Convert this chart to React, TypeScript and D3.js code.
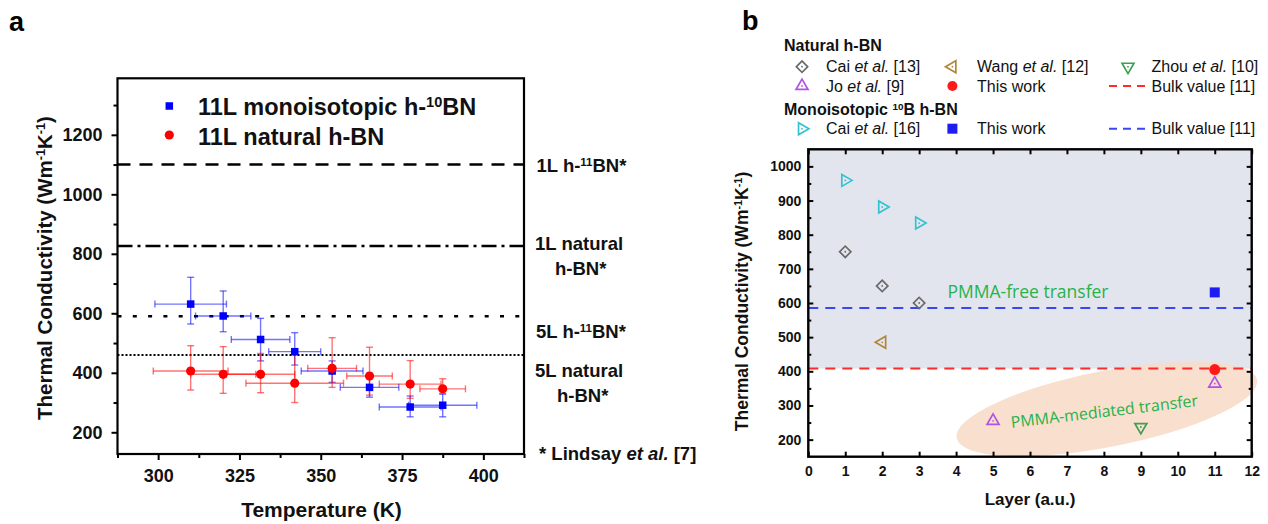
import { useEffect, useRef } from "react";
import * as d3 from "d3";

const FONT = "'Liberation Sans', Arial, Helvetica, sans-serif";
const NOTE_FONT = "'Open Sans', 'Noto Sans', sans-serif";

// ---- panel a: 11L h-BN vs temperature
const temperatureK = [310, 320, 331.5, 342, 353.5, 365, 377.5, 387.5];
const monoValues = [631, 591, 512, 471, 406, 351, 285, 291];
const monoLower = [564, 538, 440, 426, 368, 318, 252, 252];
const monoUpper = [721, 675, 583, 535, 440, 398, 322, 328];
const monoTempErr = [11, 8.5, 9, 8, 9.5, 9, 9.5, 10.5];
const naturalValues = [406, 395, 395, 365, 415, 389, 362, 346];
const naturalLower = [342, 331, 333, 300, 351, 325, 314, 331];
const naturalUpper = [491, 488, 465, 467, 518, 486, 441, 380];
const naturalTempErr = [11.5, 10, 10.5, 15, 7.5, 7, 9.5, 7];

const referenceValues = [1100, 826, 590, 460];
const referenceDashes = ["13,9", "15,5,3,5", "4,11.3", "2,2"];

const tempTicks = [300, 325, 350, 375, 400];
const tempMinorTicks = [287.5, 312.5, 337.5, 362.5, 387.5, 412.5];
const kTicksA = [200, 400, 600, 800, 1000, 1200];
const kMinorTicksA = [300, 500, 700, 900, 1100, 1300];

// ---- panel b: thermal conductivity vs layer number
const caiLayers13 = [1, 2, 3];
const caiValues13 = [750, 650, 600];
const caiLayers16 = [1, 2, 3];
const caiValues16 = [959, 881, 834];
const wangLayers = [2];
const wangValues = [485];
const zhouLayers = [9];
const zhouValues = [237];
const joLayers = [5, 11];
const joValues = [255, 364];
const naturalWorkLayers = [11];
const naturalWorkValues = [405];
const monoWorkLayers = [11];
const monoWorkValues = [631];
const bulkNatural = 408;
const bulkMono = 585;

const layerTicks = [0, 1, 2, 3, 4, 5, 6, 7, 8, 9, 10, 11, 12];
const kTicksB = [200, 300, 400, 500, 600, 700, 800, 900, 1000];
const kMinorTicksB = [250, 350, 450, 550, 650, 750, 850, 950];

type Seg = { t: string; sup?: boolean; it?: boolean };

function rich(sel: any, segs: Seg[]) {
    segs.forEach((s) => {
        const ts = sel.append("tspan").text(s.t);
        if (s.sup) {
            ts.attr("baseline-shift", "super").attr("font-size", "62%");
        }
        if (s.it) {
            ts.attr("font-style", "italic");
        }
    });
    return sel;
}

function styleAxis(g: any, size: number) {
    g.select(".domain").remove();
    g.attr("font-family", FONT).attr("font-size", size).attr("font-weight", "bold");
    g.selectAll(".tick line").attr("stroke", "#000").attr("stroke-width", 2);
    g.selectAll(".tick text").attr("fill", "#111");
}

function symbolPath(kind: string) {
    if (kind === "diamond") {
        return { d: d3.symbol(d3.symbolSquare, 64)(), rot: 45 };
    }
    const tri = d3.symbol(d3.symbolTriangle, 62)();
    const rot = { up: 0, down: 180, right: 90, left: -90 }[kind] ?? 0;
    return { d: tri, rot };
}

export default function App() {
    const svgRef = useRef<SVGSVGElement>(null);

    useEffect(() => {
        const svg = d3.select(svgRef.current);
        svg.selectAll("*").remove();

        // ================= panel a =================
        const xA = d3.scaleLinear().domain([287.5, 412.5]).range([117.5, 524]);
        const yA = d3.scaleLinear().domain([127, 1390]).range([454, 78.3]);
        const a = svg.append("g");

        a.append("text")
            .attr("x", 9)
            .attr("y", 31)
            .attr("font-family", FONT)
            .attr("font-size", 27)
            .attr("font-weight", "bold")
            .text("a");

        // reference lines (Lindsay et al.)
        referenceValues.forEach((v, i) => {
            a.append("line")
                .attr("x1", xA(287.5))
                .attr("x2", xA(412.5))
                .attr("y1", yA(v))
                .attr("y2", yA(v))
                .attr("stroke", "#000")
                .attr("stroke-width", i === 3 ? 2 : 2.5)
                .attr("stroke-dasharray", referenceDashes[i]);
        });

        const drawBars = (
            temps: number[],
            lo: number[],
            hi: number[],
            vals: number[],
            terr: number[],
            color: string
        ) => {
            const g = a
                .append("g")
                .attr("stroke", color)
                .attr("stroke-opacity", 0.55)
                .attr("stroke-width", 1.4);
            const cap = 3.5;
            temps.forEach((t, i) => {
                const cx = xA(t);
                const cy = yA(vals[i]);
                const x0 = xA(t - terr[i]);
                const x1 = xA(t + terr[i]);
                const y0 = yA(lo[i]);
                const y1 = yA(hi[i]);
                g.append("line").attr("x1", x0).attr("x2", x1).attr("y1", cy).attr("y2", cy);
                g.append("line").attr("x1", x0).attr("x2", x0).attr("y1", cy - cap).attr("y2", cy + cap);
                g.append("line").attr("x1", x1).attr("x2", x1).attr("y1", cy - cap).attr("y2", cy + cap);
                g.append("line").attr("x1", cx).attr("x2", cx).attr("y1", y0).attr("y2", y1);
                g.append("line").attr("x1", cx - cap).attr("x2", cx + cap).attr("y1", y0).attr("y2", y0);
                g.append("line").attr("x1", cx - cap).attr("x2", cx + cap).attr("y1", y1).attr("y2", y1);
            });
        };

        drawBars(temperatureK, monoLower, monoUpper, monoValues, monoTempErr, "#0000ff");
        drawBars(temperatureK, naturalLower, naturalUpper, naturalValues, naturalTempErr, "#ff0000");

        const sq = 7.5;
        a.append("g")
            .selectAll("rect")
            .data(temperatureK)
            .join("rect")
            .attr("x", (t) => xA(t) - sq / 2)
            .attr("y", (t, i) => yA(monoValues[i]) - sq / 2)
            .attr("width", sq)
            .attr("height", sq)
            .attr("fill", "#0000ff");

        a.append("g")
            .selectAll("circle")
            .data(temperatureK)
            .join("circle")
            .attr("cx", (t) => xA(t))
            .attr("cy", (t, i) => yA(naturalValues[i]))
            .attr("r", 4.6)
            .attr("fill", "#ff0000");

        // axes
        const axA = a.append("g").attr("transform", `translate(0, 454)`);
        axA.call(d3.axisBottom(xA).tickValues(tempTicks).tickSize(6).tickPadding(9).tickFormat(d3.format("d")));
        styleAxis(axA, 18);
        const axAm = a.append("g").attr("transform", `translate(0, 454)`);
        axAm.call(d3.axisBottom(xA).tickValues(tempMinorTicks).tickSize(4).tickFormat(() => ""));
        styleAxis(axAm, 18);

        const ayA = a.append("g").attr("transform", `translate(117.5, 0)`);
        ayA.call(d3.axisLeft(yA).tickValues(kTicksA).tickSize(6).tickPadding(9).tickFormat(d3.format("d")));
        styleAxis(ayA, 18);
        const ayAm = a.append("g").attr("transform", `translate(117.5, 0)`);
        ayAm.call(d3.axisLeft(yA).tickValues(kMinorTicksA).tickSize(4).tickFormat(() => ""));
        styleAxis(ayAm, 18);

        a.append("rect")
            .attr("x", 117.5)
            .attr("y", 78.3)
            .attr("width", 524 - 117.5)
            .attr("height", 454 - 78.3)
            .attr("fill", "none")
            .attr("stroke", "#000")
            .attr("stroke-width", 2.2);

        // legend
        a.append("rect").attr("x", 169.3 - 3.75).attr("y", 106 - 3.75).attr("width", 7.5).attr("height", 7.5).attr("fill", "#0000ff");
        a.append("circle").attr("cx", 169.3).attr("cy", 135).attr("r", 4.6).attr("fill", "#ff0000");
        const legA = a.append("g").attr("font-family", FONT).attr("font-size", 23.5).attr("font-weight", "bold").attr("fill", "#111");
        rich(legA.append("text").attr("x", 198).attr("y", 115), [
            { t: "11L monoisotopic h-" },
            { t: "10", sup: true },
            { t: "BN" },
        ]);
        legA.append("text").attr("x", 198).attr("y", 144.5).text("11L natural h-BN");

        // right-side labels
        const lab = a.append("g").attr("font-family", FONT).attr("font-size", 18.5).attr("font-weight", "bold").attr("fill", "#111");
        rich(lab.append("text").attr("x", 536.5).attr("y", 171.5), [{ t: "1L h-" }, { t: "11", sup: true }, { t: "BN*" }]);
        lab.append("text").attr("x", 535).attr("y", 250).text("1L natural");
        lab.append("text").attr("x", 555).attr("y", 275).text("h-BN*");
        rich(lab.append("text").attr("x", 536).attr("y", 337.5), [{ t: "5L h-" }, { t: "11", sup: true }, { t: "BN*" }]);
        lab.append("text").attr("x", 535).attr("y", 376.5).text("5L natural");
        lab.append("text").attr("x", 557).attr("y", 401.5).text("h-BN*");
        rich(lab.append("text").attr("x", 539).attr("y", 459.5), [
            { t: "* Lindsay " },
            { t: "et al.", it: true },
            { t: " [7]" },
        ]);

        // axis titles
        a.append("text")
            .attr("x", 321.5)
            .attr("y", 517)
            .attr("text-anchor", "middle")
            .attr("font-family", FONT)
            .attr("font-size", 21)
            .attr("font-weight", "bold")
            .attr("fill", "#111")
            .text("Temperature (K)");
        rich(
            a
                .append("text")
                .attr("transform", "translate(52, 268) rotate(-90)")
                .attr("text-anchor", "middle")
                .attr("font-family", FONT)
                .attr("font-size", 20.5)
                .attr("font-weight", "bold")
                .attr("fill", "#111"),
            [{ t: "Thermal Conductivity (Wm" }, { t: "-1", sup: true }, { t: "K" }, { t: "-1", sup: true }, { t: ")" }]
        );

        // ================= panel b =================
        const xB = d3.scaleLinear().domain([0, 12]).range([808.3, 1251.7]);
        const yB = d3.scaleLinear().domain([150, 1050]).range([456.7, 149.3]);
        const b = svg.append("g");

        b.append("text")
            .attr("x", 742)
            .attr("y", 30)
            .attr("font-family", FONT)
            .attr("font-size", 27)
            .attr("font-weight", "bold")
            .text("b");

        b.append("rect")
            .attr("x", xB(0))
            .attr("y", yB(1050))
            .attr("width", xB(12) - xB(0))
            .attr("height", yB(bulkNatural) - yB(1050))
            .attr("fill", "#e3e5ee");

        // PMMA-mediated region
        b.append("ellipse")
            .attr("transform", `translate(${xB(8.08)}, ${yB(290)}) rotate(-11)`)
            .attr("rx", 153)
            .attr("ry", 38)
            .attr("fill", "#f7dcca")
            .attr("fill-opacity", 0.92);

        b.append("line")
            .attr("x1", xB(0))
            .attr("x2", xB(12))
            .attr("y1", yB(bulkMono))
            .attr("y2", yB(bulkMono))
            .attr("stroke", "#3a46ee")
            .attr("stroke-width", 2)
            .attr("stroke-dasharray", "10,7");
        b.append("line")
            .attr("x1", xB(0))
            .attr("x2", xB(12))
            .attr("y1", yB(bulkNatural))
            .attr("y2", yB(bulkNatural))
            .attr("stroke", "#ff2a2a")
            .attr("stroke-width", 2)
            .attr("stroke-dasharray", "10,7");

        b.append("text")
            .attr("x", 1028)
            .attr("y", 297.5)
            .attr("text-anchor", "middle")
            .attr("font-family", NOTE_FONT)
            .attr("font-size", 17.5)
            .attr("fill", "#27b24a")
            .text("PMMA-free transfer");
        b.append("text")
            .attr("transform", "translate(1105, 417) rotate(-6.7)")
            .attr("text-anchor", "middle")
            .attr("font-family", NOTE_FONT)
            .attr("font-size", 16)
            .attr("fill", "#27b24a")
            .text("PMMA-mediated transfer");

        const openSeries = [
            { layers: caiLayers13, values: caiValues13, kind: "diamond", color: "#6a6a6a" },
            { layers: wangLayers, values: wangValues, kind: "left", color: "#b0873a" },
            { layers: zhouLayers, values: zhouValues, kind: "down", color: "#3f9f55" },
            { layers: joLayers, values: joValues, kind: "up", color: "#b052e6" },
            { layers: caiLayers16, values: caiValues16, kind: "right", color: "#33c3cf" },
        ];

        const drawOpen = (g: any, x: number, y: number, kind: string, color: string) => {
            const s = symbolPath(kind);
            g.append("path")
                .attr("d", s.d)
                .attr("transform", `translate(${x}, ${y}) rotate(${s.rot})`)
                .attr("fill", "none")
                .attr("stroke", color)
                .attr("stroke-width", 1.7);
            g.append("circle").attr("cx", x).attr("cy", y).attr("r", 0.9).attr("fill", color);
        };

        openSeries.forEach((s) => {
            s.layers.forEach((l, i) => drawOpen(b, xB(l), yB(s.values[i]), s.kind, s.color));
        });

        b.append("g")
            .selectAll("rect")
            .data(monoWorkLayers)
            .join("rect")
            .attr("x", (l) => xB(l) - 5)
            .attr("y", (l, i) => yB(monoWorkValues[i]) - 5)
            .attr("width", 10)
            .attr("height", 10)
            .attr("fill", "#1d1df2");
        b.append("g")
            .selectAll("circle")
            .data(naturalWorkLayers)
            .join("circle")
            .attr("cx", (l) => xB(l))
            .attr("cy", (l, i) => yB(naturalWorkValues[i]))
            .attr("r", 5.5)
            .attr("fill", "#ff1a1a");

        // axes (ticks inward on all sides)
        const bx = b.append("g").attr("transform", `translate(0, 456.7)`);
        bx.call(d3.axisBottom(xB).tickValues(layerTicks).tickSize(-5).tickPadding(9).tickFormat(d3.format("d")));
        styleAxis(bx, 14);
        const bxTop = b.append("g").attr("transform", `translate(0, 149.3)`);
        bxTop.call(d3.axisTop(xB).tickValues(layerTicks).tickSize(-5).tickFormat(() => ""));
        styleAxis(bxTop, 14);

        const by = b.append("g").attr("transform", `translate(808.3, 0)`);
        by.call(d3.axisLeft(yB).tickValues(kTicksB).tickSize(-5).tickPadding(7).tickFormat(d3.format("d")));
        styleAxis(by, 14);
        const bym = b.append("g").attr("transform", `translate(808.3, 0)`);
        bym.call(d3.axisLeft(yB).tickValues(kMinorTicksB).tickSize(-3).tickFormat(() => ""));
        styleAxis(bym, 14);
        const byR = b.append("g").attr("transform", `translate(1251.7, 0)`);
        byR.call(d3.axisRight(yB).tickValues(kTicksB).tickSize(-5).tickFormat(() => ""));
        styleAxis(byR, 14);
        const byRm = b.append("g").attr("transform", `translate(1251.7, 0)`);
        byRm.call(d3.axisRight(yB).tickValues(kMinorTicksB).tickSize(-3).tickFormat(() => ""));
        styleAxis(byRm, 14);

        b.append("rect")
            .attr("x", 808.3)
            .attr("y", 149.3)
            .attr("width", 1251.7 - 808.3)
            .attr("height", 456.7 - 149.3)
            .attr("fill", "none")
            .attr("stroke", "#000")
            .attr("stroke-width", 2.4);

        b.append("text")
            .attr("x", 1030)
            .attr("y", 505)
            .attr("text-anchor", "middle")
            .attr("font-family", FONT)
            .attr("font-size", 17)
            .attr("font-weight", "bold")
            .attr("fill", "#111")
            .text("Layer (a.u.)");
        rich(
            b
                .append("text")
                .attr("transform", "translate(748, 301.5) rotate(-90)")
                .attr("text-anchor", "middle")
                .attr("font-family", FONT)
                .attr("font-size", 17.5)
                .attr("font-weight", "bold")
                .attr("fill", "#111"),
            [{ t: "Thermal Conductivity (Wm" }, { t: "-1", sup: true }, { t: "K" }, { t: "-1", sup: true }, { t: ")" }]
        );

        // legend
        const leg = b.append("g").attr("font-family", FONT).attr("font-size", 16).attr("fill", "#111");
        leg.append("text").attr("x", 784).attr("y", 50.5).attr("font-weight", "bold").text("Natural h-BN");
        rich(leg.append("text").attr("x", 784).attr("y", 115).attr("font-weight", "bold"), [
            { t: "Monoisotopic " },
            { t: "10", sup: true },
            { t: "B h-BN" },
        ]);
        const row = (y: number) => y + 5.7;
        drawOpen(leg, 802, 66.7, "diamond", "#6a6a6a");
        rich(leg.append("text").attr("x", 826).attr("y", row(66.7)), [{ t: "Cai " }, { t: "et al.", it: true }, { t: " [13]" }]);
        drawOpen(leg, 952.4, 66.7, "left", "#b0873a");
        rich(leg.append("text").attr("x", 977).attr("y", row(66.7)), [{ t: "Wang " }, { t: "et al.", it: true }, { t: " [12]" }]);
        drawOpen(leg, 1128, 66.7, "down", "#3f9f55");
        rich(leg.append("text").attr("x", 1151.5).attr("y", row(66.7)), [{ t: "Zhou " }, { t: "et al.", it: true }, { t: " [10]" }]);

        drawOpen(leg, 802, 86, "up", "#b052e6");
        rich(leg.append("text").attr("x", 826).attr("y", row(86)), [{ t: "Jo " }, { t: "et al.", it: true }, { t: " [9]" }]);
        leg.append("circle").attr("cx", 952.4).attr("cy", 86).attr("r", 5).attr("fill", "#ff1a1a");
        leg.append("text").attr("x", 977).attr("y", row(86)).text("This work");
        leg.append("line").attr("x1", 1109).attr("x2", 1149).attr("y1", 86).attr("y2", 86).attr("stroke", "#ff2a2a").attr("stroke-width", 2).attr("stroke-dasharray", "8,6");
        leg.append("text").attr("x", 1151.5).attr("y", row(86)).text("Bulk value [11]");

        drawOpen(leg, 802, 128.7, "right", "#33c3cf");
        rich(leg.append("text").attr("x", 826).attr("y", row(128.7)), [{ t: "Cai " }, { t: "et al.", it: true }, { t: " [16]" }]);
        leg.append("rect").attr("x", 947.4).attr("y", 123.7).attr("width", 10).attr("height", 10).attr("fill", "#1d1df2");
        leg.append("text").attr("x", 977).attr("y", row(128.7)).text("This work");
        leg.append("line").attr("x1", 1109).attr("x2", 1149).attr("y1", 128.7).attr("y2", 128.7).attr("stroke", "#3a46ee").attr("stroke-width", 2).attr("stroke-dasharray", "8,6");
        leg.append("text").attr("x", 1151.5).attr("y", row(128.7)).text("Bulk value [11]");
    }, []);

    return (
        <svg
            ref={svgRef}
            width={1268}
            height={524}
            style={{ position: "absolute", left: 0, top: 0, background: "#fff" }}
        />
    );
}
